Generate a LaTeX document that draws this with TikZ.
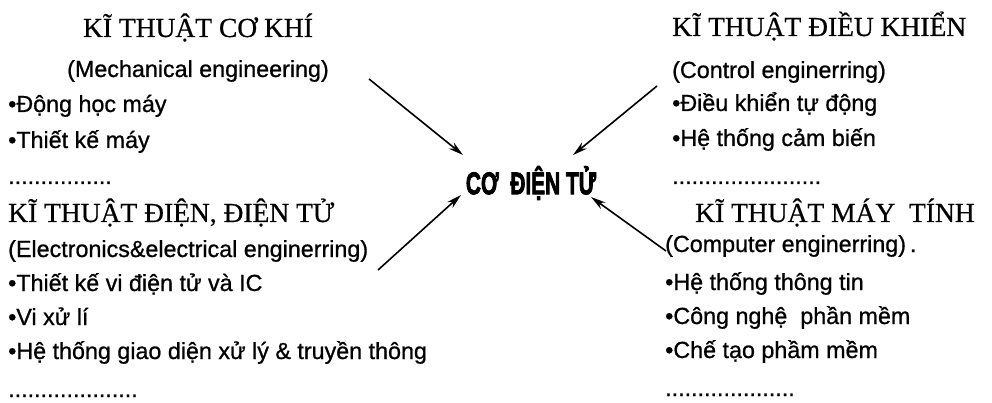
\documentclass[tikz,border=0pt]{standalone}
\usepackage{fontspec}
\setmainfont{Liberation Serif}[FakeBold=0.6]
\newfontfamily\sansf{Liberation Sans}[FakeBold=0.8]
\newfontfamily\heavyf{Liberation Sans Bold}[FakeBold=3]
\usetikzlibrary{arrows.meta}
\tikzset{
  ttl/.style={inner sep=0pt, font=\fontsize{27.5}{30}\selectfont},
  txt/.style={inner sep=0pt, font=\sansf\fontsize{23.3}{26}\selectfont},
  mid/.style={inner sep=0pt, font=\heavyf\fontsize{29}{30}\selectfont},
  arr/.style={line width=1.6pt, -{Stealth[length=15pt,width=8pt]}}
}
\begin{document}
\begin{tikzpicture}[x=1pt,y=-1pt]
\useasboundingbox (0,0) rectangle (992,403);
% left column
\node[ttl, anchor=base] (t1) at (198,37) {KĨ THUẬT CƠ KHÍ};
\node[txt, anchor=base] (e1) at (198,77) {(Mechanical engineering)};
\node[txt, anchor=base west] (b11) at (8,112) {•Động học máy};
\node[txt, anchor=base west] (b12) at (8,148) {•Thiết kế máy};
\node[txt, anchor=base west] (d1) at (8,184) {................};
\node[ttl, anchor=base west] (t2) at (8,222) {KĨ THUẬT ĐIỆN, ĐIỆN TỬ};
\node[txt, anchor=base west] (e2) at (8,257) {(Electronics\&electrical enginerring)};
\node[txt, anchor=base west] (b21) at (8,291) {•Thiết kế vi điện tử và IC};
\node[txt, anchor=base west] (b22) at (8,325) {•Vi xử lí};
\node[txt, anchor=base west] (b23) at (8,359) {•Hệ thống giao diện xử lý \& truyền thông};
\node[txt, anchor=base west] (d2) at (8,397) {....................};
% right column
\node[ttl, anchor=base west] (t3) at (672,36) {KĨ THUẬT ĐIỀU KHIỂN};
\node[txt, anchor=base west] (e3) at (672,78) {(Control enginerring)};
\node[txt, anchor=base west] (b31) at (672,111) {•Điều khiển tự động};
\node[txt, anchor=base west] (b32) at (672,146) {•Hệ thống cảm biến};
\node[txt, anchor=base west] (d3) at (672,184) {.......................};
\node[ttl, anchor=base west] (t4) at (695,222) {KĨ THUẬT MÁY~~TÍNH};
\node[txt, anchor=base west] (e4) at (665,252) {(Computer enginerring)\,.};
\node[txt, anchor=base west] (b41) at (665,290) {•Hệ thống thông tin};
\node[txt, anchor=base west] (b42) at (665,324) {•Công nghệ~~phần mềm};
\node[txt, anchor=base west] (b43) at (665,358) {•Chế tạo phầm mềm};
\node[txt, anchor=base west] (d4) at (665,396) {....................};
% centre
\node[mid] (c) at (531,183) {\scalebox{0.72}[1.08]{CƠ~~ĐIỆN TỬ}};
% arrows
\coordinate (a1) at (369,79);  \coordinate (h1) at (463,155);
\coordinate (a2) at (657,86);  \coordinate (h2) at (573,155);
\coordinate (a3) at (378,270); \coordinate (h3) at (461,195);
\coordinate (a4) at (666,251); \coordinate (h4) at (591,197);
\draw[arr] (a1) -- (h1);
\draw[arr] (a2) -- (h2);
\draw[arr] (a3) -- (h3);
\draw[arr] (a4) -- (h4);
\end{tikzpicture}
\end{document}
